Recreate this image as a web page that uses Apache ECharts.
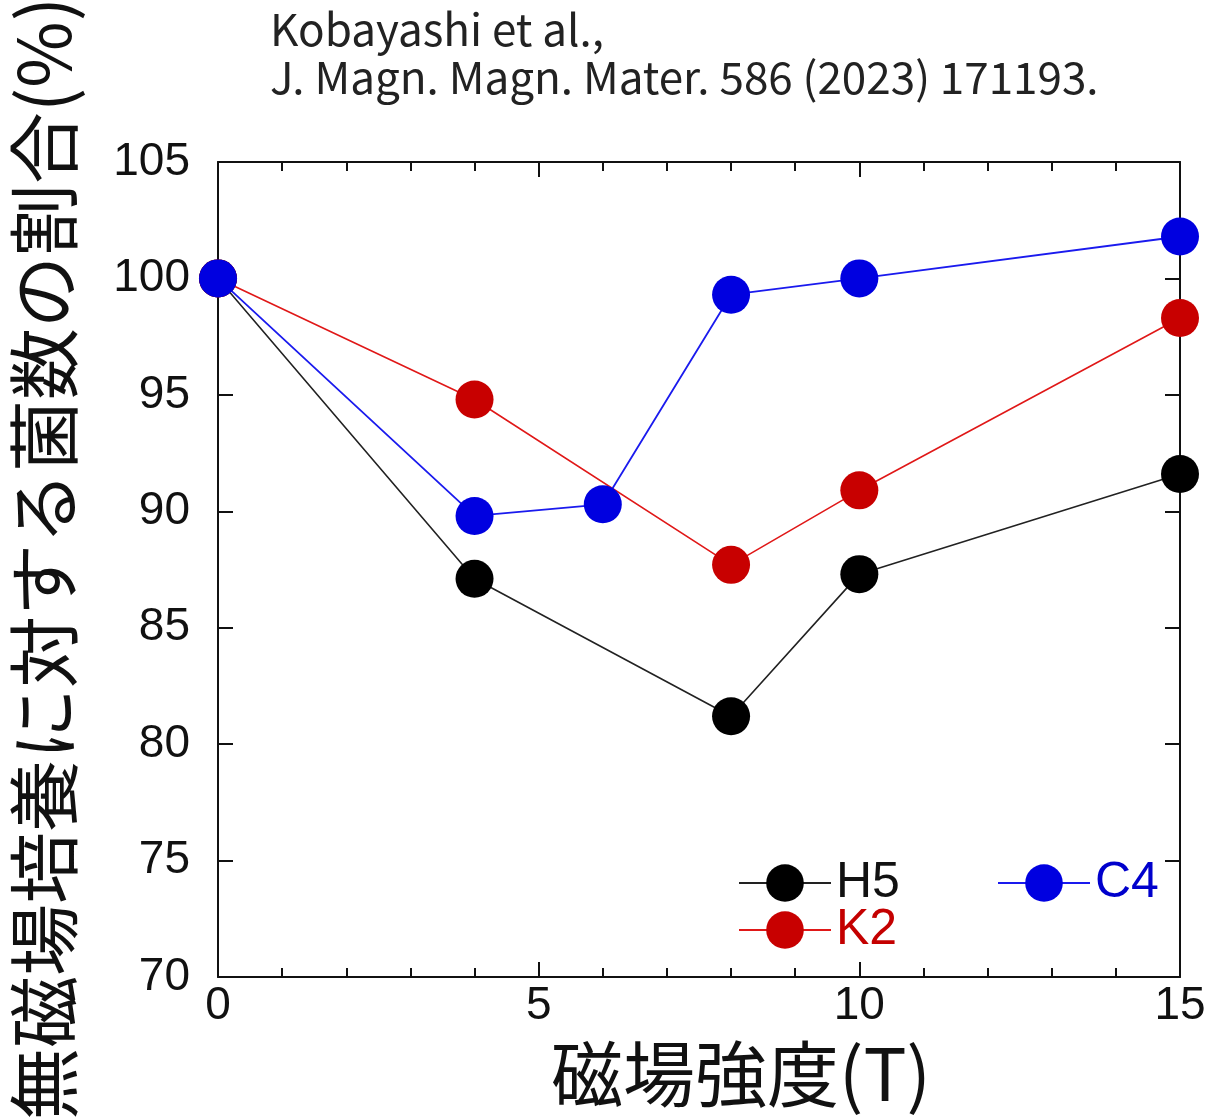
<!DOCTYPE html>
<html>
<head>
<meta charset="utf-8">
<title>磁場強度と菌数の割合</title>
<script src="https://cdn.jsdelivr.net/npm/echarts@6/dist/echarts.min.js"></script>
<style>
  html, body { margin: 0; padding: 0; background: #fff; }
  #chart { width: 1227px; height: 1118px; }
</style>
</head>
<body>
<div id="chart"></div>
<script>
// データ (磁場強度 T, 無磁場培養に対する割合 %)
var h5Field = [0, 4, 8, 10, 15];
var h5Ratio = [100, 87.1, 81.2, 87.3, 91.6];
var k2Field = [0, 4, 8, 10, 15];
var k2Ratio = [100, 94.8, 87.7, 90.9, 98.3];
var c4Field = [0, 4, 6, 8, 10, 15];
var c4Ratio = [100, 89.8, 90.3, 99.3, 100, 101.8];

function pairs(xs, ys) {
  return xs.map(function (x, i) { return [x, ys[i]]; });
}

var jp = '"Noto Sans CJK JP", "Noto Sans", sans-serif';
var num = '"Liberation Sans", Arial, sans-serif';

var chart = echarts.init(document.getElementById('chart'));

var xBase = {
  type: 'value', min: 0, max: 15, interval: 5,
  splitLine: { show: false },
  axisLine: { show: true, onZero: false, lineStyle: { color: '#111', width: 2 } },
  axisTick: { show: true, inside: true, length: 15, lineStyle: { color: '#111', width: 2 } },
  minorTick: { show: true, splitNumber: 5, length: 9, lineStyle: { color: '#111', width: 2 } }
};
var yBase = {
  type: 'value', min: 70, max: 105, interval: 5,
  splitLine: { show: false },
  axisLine: { show: true, onZero: false, lineStyle: { color: '#111', width: 2 } },
  axisTick: { show: true, inside: true, length: 15, lineStyle: { color: '#111', width: 2 } }
};

chart.setOption({
  animation: false,
  backgroundColor: '#fff',
  title: {
    text: 'Kobayashi et al.,\nJ. Magn. Magn. Mater. 586 (2023) 171193.',
    left: 265, top: 0,
    textStyle: { fontFamily: jp, fontSize: 44, lineHeight: 48, fontWeight: 'normal', color: '#222' }
  },
  grid: { left: 218, right: 47, top: 162, bottom: 141, containLabel: false, outerBoundsMode: 'none' },
  legend: [
    {
      orient: 'vertical', left: 733, top: 853,
      itemWidth: 92, itemHeight: 47, itemGap: -3,
      textStyle: { fontFamily: num, fontSize: 50, lineHeight: 47 },
      data: [
        { name: 'H5', textStyle: { color: '#111' } },
        { name: 'K2', textStyle: { color: '#c40000' } }
      ]
    },
    {
      orient: 'vertical', left: 992, top: 853,
      itemWidth: 92, itemHeight: 47,
      textStyle: { fontFamily: num, fontSize: 50, lineHeight: 47 },
      data: [{ name: 'C4', textStyle: { color: '#0000cc' } }]
    }
  ],
  xAxis: [
    Object.assign({}, xBase, {
      position: 'bottom',
      name: '磁場強度(T)', nameLocation: 'middle', nameGap: 61,
      nameTextStyle: { fontFamily: jp, fontSize: 72, color: '#111', padding: [0, 0, 0, 84] },
      axisLabel: { fontFamily: num, fontSize: 46, color: '#111', margin: 6 }
    }),
    Object.assign({}, xBase, { position: 'top', axisLabel: { show: false } })
  ],
  yAxis: [
    Object.assign({}, yBase, {
      position: 'left',
      name: '無磁場培養に対する菌数の割合(%)', nameLocation: 'middle', nameGap: 138,
      nameRotate: 90,
      nameTextStyle: { fontFamily: jp, fontSize: 72, color: '#111', padding: [0, 0, 0, 22] },
      axisLabel: { fontFamily: num, fontSize: 46, color: '#111', margin: 28, padding: [0, 0, 16, 0] }
    }),
    Object.assign({}, yBase, { position: 'right', axisLabel: { show: false } })
  ],
  series: [
    {
      name: 'H5', type: 'line', data: pairs(h5Field, h5Ratio),
      symbol: 'circle', symbolSize: 38, z: 3,
      lineStyle: { color: '#222', width: 1.6 },
      itemStyle: { color: '#000' }
    },
    {
      name: 'K2', type: 'line', data: pairs(k2Field, k2Ratio),
      symbol: 'circle', symbolSize: 38, z: 4,
      lineStyle: { color: '#e01818', width: 1.6 },
      itemStyle: { color: '#c80000' }
    },
    {
      name: 'C4', type: 'line', data: pairs(c4Field, c4Ratio),
      symbol: 'circle', symbolSize: 38, z: 5,
      lineStyle: { color: '#1a1aee', width: 1.8 },
      itemStyle: { color: '#0000e0' }
    }
  ]
});
</script>
</body>
</html>
